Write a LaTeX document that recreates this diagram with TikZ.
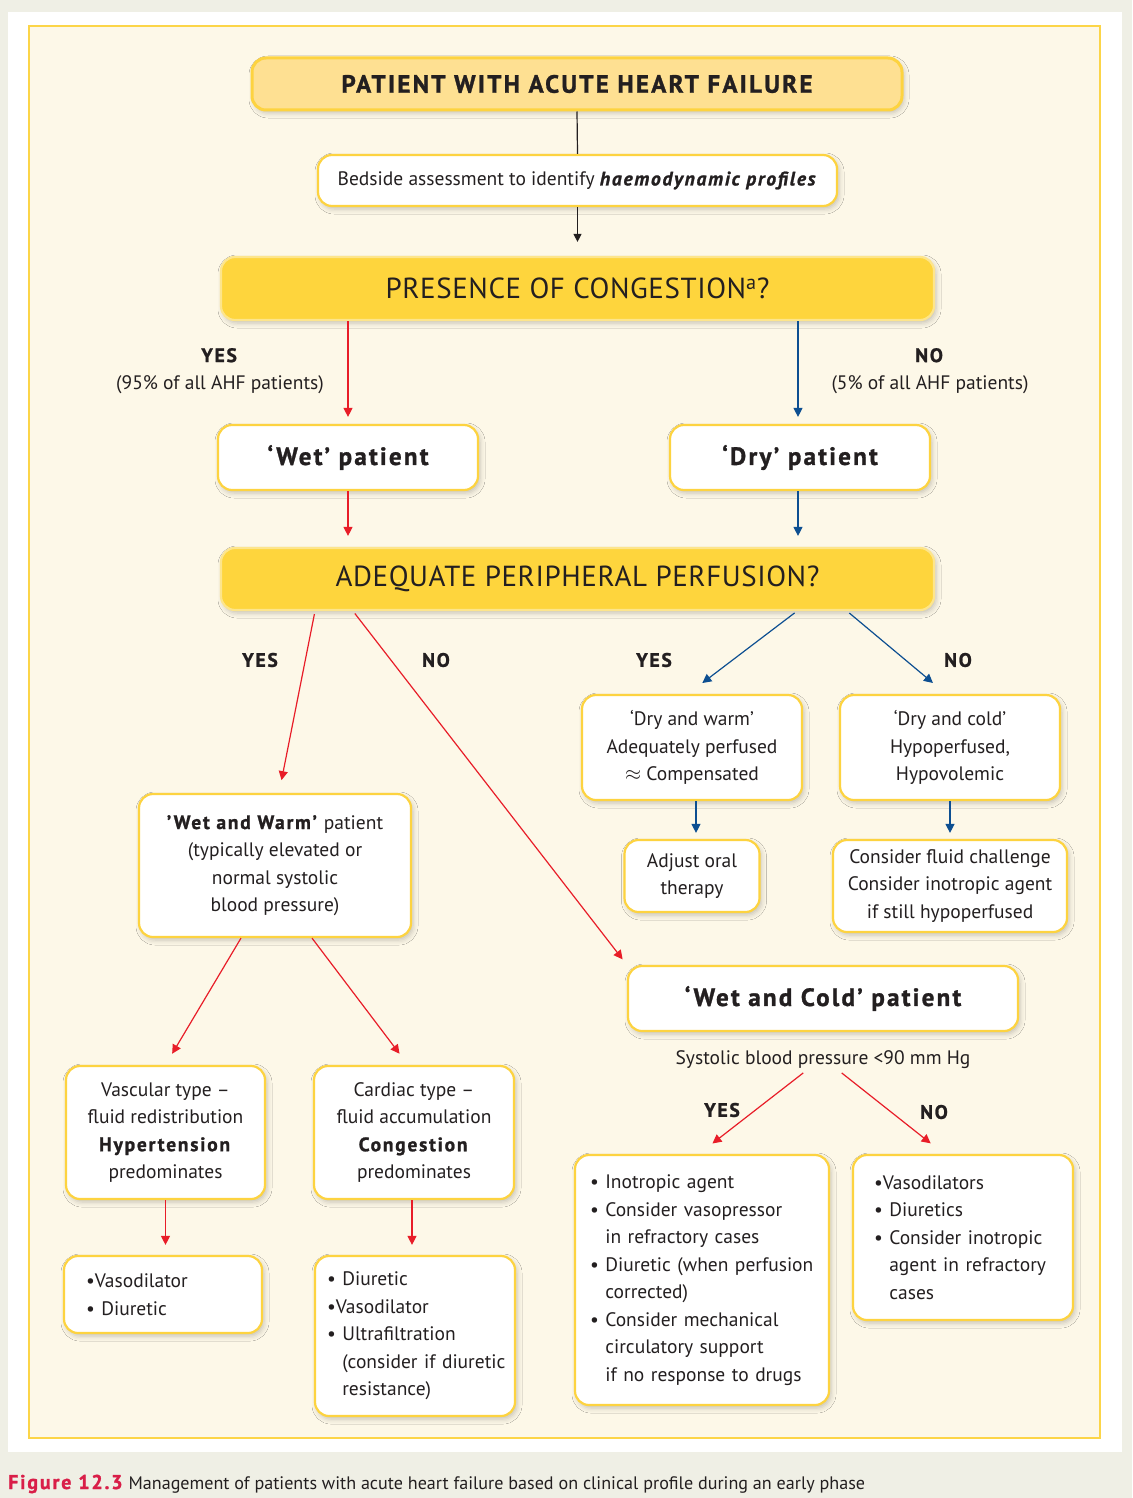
\documentclass[tikz,border=0pt]{standalone}
\usepackage{fontspec}
\setmainfont{PT Sans}[BoldFeatures={LetterSpace=9, FakeBold=1.2}, BoldItalicFeatures={LetterSpace=9, FakeBold=1.2}]
\usetikzlibrary{arrows.meta,shadows.blur}

\definecolor{pagebg}{HTML}{EFEFE5}
\definecolor{panelbg}{HTML}{FDF8E8}
\definecolor{panelline}{HTML}{FCD548}
\definecolor{boxline}{HTML}{FDD340}
\definecolor{titlefill}{HTML}{FEE092}
\definecolor{goldfill}{HTML}{FED53D}
\definecolor{goldline}{HTML}{FDE58C}
\definecolor{ink}{HTML}{231F20}
\definecolor{ahfred}{HTML}{E81D28}
\definecolor{ahfblue}{HTML}{0D4F91}
\definecolor{figred}{HTML}{D91E48}

\newcommand\flowtext{\fontsize{19.5}{27.5}\selectfont}
\newcommand\itembul{\textbullet\ }
\newcommand\itemind{\phantom{\textbullet\ }}

\begin{document}
\begin{tikzpicture}[x=1pt, y=-1pt,
    box/.style={draw=boxline, line width=2.2pt, fill=white, rounded corners=14pt,
        blur shadow={shadow xshift=2pt, shadow yshift=-3pt, shadow blur radius=5pt, shadow opacity=22},
        text=ink, align=center, font=\flowtext, inner sep=0pt},
    listbox/.style={box, align=left},
    goldbox/.style={box, fill=goldfill, draw=goldline, font=\fontsize{29}{32}\selectfont\addfontfeatures{LetterSpace=2}},
    bigbox/.style={box, font=\bfseries\fontsize{25}{30}\selectfont},
    lbl/.style={text=ink, align=center, font=\flowtext, inner sep=0pt},
    redarrow/.style={draw=ahfred, line width=1.2pt, -{Triangle[width=9pt,length=9pt]}},
    bluearrow/.style={draw=ahfblue, line width=1.2pt, -{Triangle[width=9pt,length=9pt]}},
    blackarrow/.style={draw=ink, line width=1.2pt, -{Triangle[width=8pt,length=8pt]}}]

    % background, white page and panel
    \fill [pagebg] (0,0) rectangle (1132,1498);
    \fill [white] (8,12) rectangle (1122,1452);
    \draw [panelline, fill=panelbg, line width=1.2pt] (29,26) rectangle (1100,1438);

    % top of the chart
    \node [box, fill=titlefill, line width=3pt, font=\bfseries\fontsize{25}{28}\selectfont,
        minimum width=650, minimum height=52] (title) at (577,84) {PATIENT WITH ACUTE HEART FAILURE};
    \node [box, minimum width=519, minimum height=51] (bed) at (577.5,180.5)
        {Bedside assessment to identify \textbf{\textit{haemodynamic profiles}}};
    \node [goldbox, minimum width=713, minimum height=63] (cong) at (577.5,288.5)
        {PRESENCE OF CONGESTION\textsuperscript{a}?};

    % wet / dry
    \node [lbl] (yes1) at (220,371) {\textbf{YES}\\(95\% of all AHF patients)};
    \node [lbl] (no1) at (930,371) {\textbf{NO}\\(5\% of all AHF patients)};
    \node [bigbox, minimum width=260, minimum height=65] (wet) at (348,457.5) {‘Wet’ patient};
    \node [bigbox, minimum width=260, minimum height=65] (dry) at (800,457.5) {‘Dry’ patient};
    \node [goldbox, minimum width=713, minimum height=62] (perf) at (577.5,579)
        {ADEQUATE PERIPHERAL PERFUSION?};

    % dry branch
    \node [lbl, font=\bfseries\flowtext] (yes2) at (654,660) {YES};
    \node [lbl, font=\bfseries\flowtext] (no2) at (958,660) {NO};
    \node [box, minimum width=220, minimum height=105] (drywarm) at (692,747.5)
        {‘Dry and warm’\\Adequately perfused\\$\approx$ Compensated};
    \node [box, minimum width=220, minimum height=105] (drycold) at (950,747.5)
        {‘Dry and cold’\\Hypoperfused,\\Hypovolemic};
    \node [box, minimum width=135, minimum height=72] (oral) at (692,876)
        {Adjust oral\\therapy};
    \node [box, minimum width=234, minimum height=92] (fluid) at (950,886)
        {Consider fluid challenge\\Consider inotropic agent\\if still hypoperfused};

    % wet and warm branch
    \node [lbl, font=\bfseries\flowtext] (yes3) at (260,660) {YES};
    \node [lbl, font=\bfseries\flowtext] (no3) at (436,660) {NO};
    \node [box, minimum width=272, minimum height=143] (wetwarm) at (275,865.5)
        {\textbf{’Wet and Warm’} patient\\(typically elevated or\\normal systolic\\blood pressure)};
    \node [box, minimum width=199, minimum height=133] (vasc) at (165.5,1132.5)
        {Vascular type –\\fluid redistribution\\\textbf{Hypertension}\\predominates};
    \node [box, minimum width=200, minimum height=133] (card) at (414,1132.5)
        {Cardiac type –\\fluid accumulation\\\textbf{Congestion}\\predominates};
    \node [listbox, text width=154, inner xsep=22, minimum height=77] (vasotx) at (163,1294.5)
        {\textbullet Vasodilator\\\itembul Diuretic};
    \node [listbox, text width=176, inner xsep=12, minimum height=160] (diurtx) at (415,1336)
        {\itembul Diuretic\\\textbullet Vasodilator\\\itembul Ultrafiltration\\
         \mbox{\itemind(consider if diuretic}\\\itemind resistance)};

    % wet and cold branch
    \node [bigbox, minimum width=390, minimum height=65] (wetcold) at (823,998.5)
        {‘Wet and Cold’ patient};
    \node [lbl] (sbp) at (823,1060) {Systolic blood pressure <90 mm Hg};
    \node [lbl, font=\bfseries\flowtext] (yes4) at (722,1110) {YES};
    \node [lbl, font=\bfseries\flowtext] (no4) at (934,1112) {NO};
    \node [listbox, text width=224, inner xsep=15, minimum height=250] (inotx) at (702,1280)
        {\itembul Inotropic agent\\\itembul Consider vasopressor\\\itemind in refractory cases\\
         \mbox{\itembul Diuretic (when perfusion}\\\itemind corrected)\\\itembul Consider mechanical\\
         \itemind circulatory support\\\itemind if no response to drugs};
    \node [listbox, text width=178, inner xsep=21, minimum height=165] (vasodtx) at (963,1237.5)
        {\textbullet Vasodilators\\\itembul Diuretics\\\itembul Consider inotropic\\
         \itemind agent in refractory\\\itemind cases};

    % connectors
    \draw [draw=ink, line width=1.2pt] (title.south) -- (bed.north);
    \draw [blackarrow, shorten >=14pt] (bed.south) -- (cong.north);
    \draw [redarrow, shorten >=7pt] (cong.south -| wet) -- (wet.north);
    \draw [bluearrow, shorten >=7pt] (cong.south -| dry.north) ++(-2,0) -- ([xshift=-2pt]dry.north);
    \draw [redarrow, shorten >=11pt] (wet.south) -- (perf.north -| wet);
    \draw [bluearrow, shorten >=11pt] ([xshift=-2pt]dry.south) -- ([xshift=-2pt]perf.north -| dry);
    \draw [redarrow, shorten <=3pt, shorten >=13pt] ([xshift=-262.5pt]perf.south) -- ([xshift=4pt]wetwarm.north);
    \draw [redarrow, shorten <=3pt, shorten >=7pt] ([xshift=-224.5pt]perf.south) -- (wetcold.north west);
    \draw [bluearrow, shorten <=3pt, shorten >=18pt] ([xshift=219.5pt]perf.south) -- ([xshift=-4pt]drywarm.north);
    \draw [bluearrow, shorten <=3pt, shorten >=17pt] ([xshift=269.5pt]perf.south) -- ([xshift=-4pt]drycold.north);
    \draw [bluearrow, shorten >=6pt] ([xshift=4pt]drywarm.south) -- ([xshift=4pt]oral.north);
    \draw [bluearrow, shorten >=6pt] (drycold.south) -- (fluid.north);
    \draw [redarrow, shorten >=13pt] ([xshift=-34pt]wetwarm.south) -- (vasc.north);
    \draw [redarrow, shorten >=14pt] ([xshift=37pt]wetwarm.south) -- ([xshift=-6pt]card.north);
    \draw [redarrow, shorten >=10pt] (vasc.south) -- (vasc.south |- vasotx.north);
    \draw [redarrow, shorten >=10pt] ([xshift=-2pt]card.south) -- ([xshift=-2pt]card.south |- diurtx.north);
    \draw [redarrow, shorten <=6pt, shorten >=17pt] ([xshift=-15pt]sbp.south) -- ([xshift=-3pt]inotx.north);
    \draw [redarrow, shorten <=6pt, shorten >=17pt] ([xshift=14pt]sbp.south) -- ([xshift=-19pt]vasodtx.north);

    % caption
    \node [anchor=base west, inner sep=0pt, text=ink, font=\fontsize{18.1}{20}\selectfont] (caption) at (8,1489)
        {\textcolor{figred}{\bfseries\fontsize{20}{20}\selectfont Figure 12.3}\hspace{6pt}Management of patients with acute heart failure based on clinical profile during an early phase};
\end{tikzpicture}
\end{document}
